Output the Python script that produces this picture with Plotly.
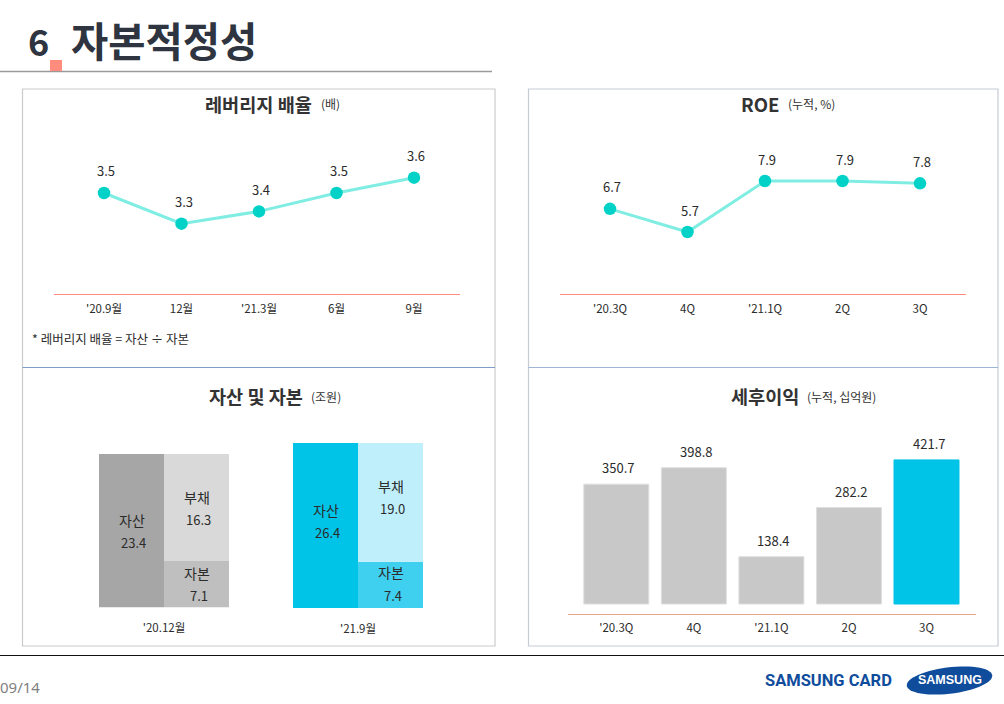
import numpy as np
import plotly.graph_objects as go

# ---------- data ----------
lev_cats = ["'20.9월", "12월", "'21.3월", "6월", "9월"]
lev_vals = [3.50, 3.30, 3.38, 3.50, 3.60]   # plotted height
lev_text = ["3.5", "3.3", "3.4", "3.5", "3.6"]

roe_cats = ["'20.3Q", "4Q", "'21.1Q", "2Q", "3Q"]
roe_vals = [6.7, 5.7, 7.9, 7.9, 7.8]

period_labels = ["'20.12월", "'21.9월"]
assets = [23.4, 26.4]
liabilities = [16.3, 19.0]
capital = [7.1, 7.4]

ni_cats = ["'20.3Q", "4Q", "'21.1Q", "2Q", "3Q"]
ni_vals = [350.7, 398.8, 138.4, 282.2, 421.7]

FONT = "Noto Sans CJK KR"
INK = "#2b2b2b"
W, H = 1004, 704


def X(px):
    return px / W


def Y(py):
    return 1 - py / H


fig = go.Figure()
ann = []


def text(px, py, s, size, color=INK, anchor="center", family=FONT):
    ann.append(dict(xref="paper", yref="paper", x=X(px), y=Y(py), text=s, showarrow=False,
                    xanchor=anchor, yanchor="middle", font=dict(size=size, color=color, family=family)))


def axis_common(**kw):
    d = dict(showgrid=False, zeroline=False, fixedrange=True)
    d.update(kw)
    return d


layout = {}

# ---------- line panels ----------
def line_panel(ax, cats, vals, labels, x0, x1, first_px, yrange):
    xa, ya = f"xaxis{ax}", f"yaxis{ax}"
    step = 77.5
    layout[xa] = axis_common(
        type="linear", domain=[X(x0), X(x1)],
        range=[(x0 - first_px) / step, 4 + (x1 - (first_px + 4 * step)) / step],
        tickmode="array", tickvals=list(range(5)), ticktext=cats,
        showline=True, linecolor="#FF8C7C", linewidth=1, ticks="outside", ticklen=4,
        tickcolor="rgba(0,0,0,0)", tickfont=dict(size=11.5, family=FONT, color=INK), anchor=f"y{ax}")
    layout[ya] = axis_common(domain=[Y(294), Y(130)], range=yrange, visible=False, anchor=f"x{ax}")
    idx = list(range(5))
    fig.add_trace(go.Scatter(x=idx, y=vals, mode="lines+markers", xaxis=f"x{ax}", yaxis=f"y{ax}",
                             line=dict(color="#80EDE3", width=3),
                             marker=dict(size=12.5, color="#00D2C8"), showlegend=False, hoverinfo="skip"))
    for i, v, s in zip(idx, vals, labels):
        ann.append(dict(xref=f"x{ax}", yref=f"y{ax}", x=i, y=v, text=s, showarrow=False,
                        xshift=2, yshift=22, xanchor="center", yanchor="middle",
                        font=dict(size=13, family=FONT, color=INK)))


line_panel("", lev_cats, lev_vals, lev_text, 54, 460, 104, [2.841, 3.911])
line_panel("2", roe_cats, roe_vals, [f"{v:.1f}" for v in roe_vals], 560, 966, 610, [3.028, 10.1])


# ---------- stacked panels (each period has its own drawn scale) ----------
def stack_panel(ax, i, x0, x1, ybottom, ytop, cols, lifts):
    a, l, c = assets[i], liabilities[i], capital[i]
    layout[f"xaxis{ax}"] = axis_common(
        type="linear", domain=[X(x0), X(x1)], range=[-0.5, 1.5], tickmode="array", tickvals=[0.5],
        ticktext=[period_labels[i]], ticks="outside", ticklen=10, tickcolor="rgba(0,0,0,0)",
        showline=False, tickfont=dict(size=11.5, family=FONT, color=INK), anchor=f"y{ax}")
    layout[f"yaxis{ax}"] = axis_common(domain=[Y(ybottom), Y(ytop)], range=[0, a], visible=False,
                                       anchor=f"x{ax}")
    fig.add_trace(go.Bar(x=[0, 1], y=[a, c], width=1, marker=dict(color=[cols[0], cols[2]], line_width=0),
                         xaxis=f"x{ax}", yaxis=f"y{ax}", showlegend=False, hoverinfo="skip"))
    fig.add_trace(go.Bar(x=[1], y=[l], width=1, base=[c], marker=dict(color=cols[1], line_width=0),
                         xaxis=f"x{ax}", yaxis=f"y{ax}", showlegend=False, hoverinfo="skip"))
    parts = [(0, a / 2, "자산", a), (1, c + l / 2, "부채", l), (1, c / 2, "자본", c)]
    for (xv, yv, name, val), lift in zip(parts, lifts):
        for s, ys, xs, fs in [(name, 11.5, 0, 14), (f"{val:.1f}", -11.5, 2, 13)]:
            ann.append(dict(xref=f"x{ax}", yref=f"y{ax}", x=xv, y=yv, text=s, showarrow=False,
                            xshift=xs, yshift=ys + lift, xanchor="center", yanchor="middle",
                            font=dict(size=fs, family=FONT, color=INK)))


stack_panel("3", 0, 99, 229, 607.5, 454, ["#A6A6A6", "#D9D9D9", "#BFBFBF"], [-0.5, -1, 0])
stack_panel("4", 1, 293, 423, 608, 443, ["#00C3E8", "#BFEFFB", "#3FD0EF"], [4.5, 5, 1])

# ---------- net income panel ----------
layout["xaxis5"] = axis_common(
    type="linear", domain=[X(568), X(975.7)], range=[(568 - 616.3) / 77.55, 4 + (975.7 - 926.5) / 77.55],
    tickmode="array", tickvals=list(range(5)), ticktext=ni_cats, showline=True, linecolor="#E9A588",
    linewidth=1.2, ticks="outside", ticklen=4, tickcolor="rgba(0,0,0,0)",
    tickfont=dict(size=11.5, family=FONT, color=INK), anchor="y5")
layout["yaxis5"] = axis_common(domain=[Y(613.5), Y(440)], range=[-27.8, 480], visible=False, anchor="x5")
fig.add_trace(go.Bar(x=list(range(5)), y=ni_vals, width=0.838, xaxis="x5", yaxis="y5",
                     marker=dict(color=["#C8C8C8"] * 4 + ["#00C3E8"],
                                 line=dict(color=["#DEDEDE"] * 4 + ["#00C3E8"], width=1)),
                     showlegend=False, hoverinfo="skip"))
for i, v in enumerate(ni_vals):
    ann.append(dict(xref="x5", yref="y5", x=i, y=v, text=f"{v:.1f}", showarrow=False, xshift=2, yshift=16.5,
                    xanchor="center", yanchor="middle", font=dict(size=13, family=FONT, color=INK)))

# ---------- titles ----------
text(25.5, 40, "<b>6</b>", 36, "#2E3440", "left")
text(69, 40, "<b>자본적정성</b>", 40.5, "#2E3440", "left")
for right, y, main, left, sub in [
    (314, 103.5, "레버리지 배율", 318.5, "(배)"),
    (781, 103.5, "ROE", 785.5, "(누적, %)"),
    (305, 395.5, "자산 및 자본", 308.5, "(조원)"),
    (801, 395.5, "세후이익", 804.5, "(누적, 십억원)"),
]:
    text(right, y, f"<b>{main}</b>", 18.6, "#333333", "right")
    text(left, y + 0.5, sub, 12, "#333333", "left")

text(30, 339, "* 레버리지 배율 = 자산 ÷ 자본", 12.5, INK, "left")
text(-2, 687, "09/14", 15, "#7F7F7F", "left", "Noto Sans")
text(763, 680.5, "<b>SAMSUNG CARD</b>", 16.5, "#0F4C9C", "left", "Roboto")

# ---------- frame and logo ----------
shapes = []


def rect(x0, y0, x1, y1, line=None, fill=None, lw=1.2):
    shapes.append(dict(type="rect", xref="paper", yref="paper", x0=X(x0), x1=X(x1), y0=Y(y0), y1=Y(y1),
                       line=dict(color=line or "rgba(0,0,0,0)", width=lw if line else 0),
                       fillcolor=fill or "rgba(0,0,0,0)", layer="below"))


def hline(x0, x1, y, color, lw):
    shapes.append(dict(type="line", xref="paper", yref="paper", x0=X(x0), x1=X(x1), y0=Y(y), y1=Y(y),
                       line=dict(color=color, width=lw), layer="below"))


rect(22.5, 89, 495, 646, "#CBCBCB")
rect(528.5, 89, 998, 646, "#C6CCD6")
hline(22.5, 495, 367.5, "#7E9CC4", 1.2)
hline(528.5, 998, 367.5, "#9DB6D8", 1.2)
hline(0, 492, 71.5, "#9A9A9A", 1.5)
rect(50, 60, 62, 71, fill="#FF8C7C")
hline(0, 1004, 655.5, "#111111", 1.2)

t = np.linspace(0, 2 * np.pi, 60)
rot = np.deg2rad(-7)
ex, ey = 43 * np.cos(t), 13.2 * np.sin(t)
lx = 949.5 + ex * np.cos(rot) - ey * np.sin(rot)
ly = 680.5 + ex * np.sin(rot) + ey * np.cos(rot)
path = "M " + " L ".join(f"{X(a):.5f},{Y(b):.5f}" for a, b in zip(lx, ly)) + " Z"
shapes.append(dict(type="path", xref="paper", yref="paper", path=path, fillcolor="#0F4C9C", line_width=0,
                   layer="below"))
text(949.5, 680, "<b>SAMSUNG</b>", 12.5, "#FFFFFF", "center", "Liberation Sans")

fig.update_layout(width=W, height=H, margin=dict(l=0, r=0, t=0, b=0), paper_bgcolor="white",
                  plot_bgcolor="rgba(0,0,0,0)", barmode="overlay", annotations=ann, shapes=shapes,
                  font=dict(family=FONT), **layout)
fig.write_html("out.html", config={"displayModeBar": False},
               post_script="document.body.style.margin='0';document.body.style.overflow='hidden';")
